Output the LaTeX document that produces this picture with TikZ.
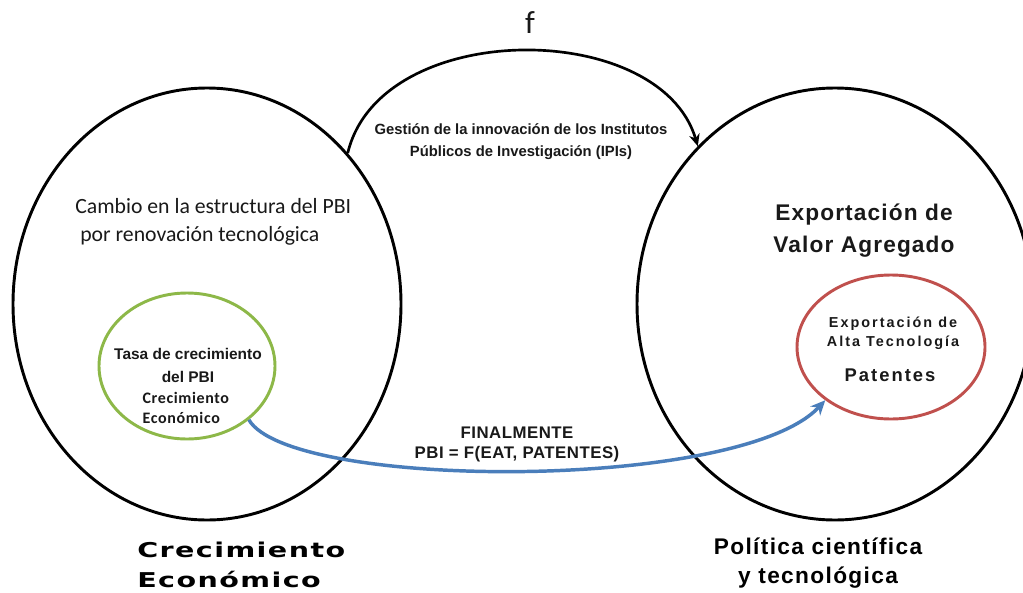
\documentclass[tikz,border=0pt]{standalone}
\usepackage{fontspec}
\usetikzlibrary{shapes.geometric,arrows.meta}
\setmainfont{Liberation Sans}
\newfontfamily\carl{Carlito}
\newfontfamily\widefont[FakeStretch=1.4]{DejaVu Sans}
\definecolor{ringgreen}{RGB}{141,184,72}
\definecolor{ringred}{RGB}{192,80,77}
\definecolor{flowblue}{RGB}{74,126,187}
\newcommand{\fsz}[2]{\fontsize{#1}{#2}\selectfont}
\tikzset{
  bigring/.style={ellipse, draw=black, line width=2.2pt, inner sep=0pt},
  greenring/.style={ellipse, draw=ringgreen, line width=2.2pt, inner sep=0pt},
  redring/.style={ellipse, draw=ringred, line width=2.2pt, inner sep=0pt},
  flow/.style={draw=flowblue, line width=2.6pt, -{Stealth[length=11pt,width=10pt]}},
  topflow/.style={draw=black, line width=2pt, -{Stealth[length=9pt,width=8pt]}},
  lbl/.style={inner sep=0pt, align=center, text=black!90},
}
\begin{document}
\begin{tikzpicture}[x=0.75pt,y=-0.75pt]
\clip (0,0) rectangle (1023,592);
\fill[white] (0,0) rectangle (1023,592);

% the two main ellipses
\node[bigring, minimum width=291pt, minimum height=324pt] (L) at (207,304) {};
\node[bigring, minimum width=297pt, minimum height=324pt] (R) at (835,304) {};

% inner ellipses
\node[greenring, minimum width=132pt, minimum height=109.5pt] (G) at (187,366) {};
\node[redring, minimum width=141pt, minimum height=108pt] (D) at (891,347) {};

% function arrow on top
\node[lbl, font=\carl\fsz{24pt}{28pt}] (f) at (530,23) {f};
\draw[topflow] (L.47) .. controls (380,18) and (660,18) .. (R.131);
\node[lbl, font=\bfseries\fsz{11.1pt}{16.5pt}] (gest) at (521,142)
  {Gestión de la innovación de los Institutos\\Públicos de Investigación (IPIs)};

% left texts
\node[lbl, anchor=west, align=left, font=\carl\fsz{16.3pt}{21pt}] (cambio) at (75,222)
  {Cambio en la estructura del PBI\\\hspace*{3.75pt}por renovación tecnológica};
\node[lbl, font=\bfseries\fsz{11.6pt}{17.25pt}] (tasa) at (188,365)
  {Tasa de crecimiento\\del PBI};
\node[lbl, anchor=west, align=left, fill=white, inner sep=1pt,
      font=\carl\bfseries\fsz{12pt}{15pt}\addfontfeatures{LetterSpace=4}] (crecin) at (141,408)
  {Crecimiento\\Económico};

% right texts
\node[lbl, font=\bfseries\fsz{17pt}{24pt}\addfontfeatures{LetterSpace=5}] (valor) at (864,231)
  {Exportación de\\Valor Agregado};
\node[lbl, font=\bfseries\fsz{10.8pt}{14.25pt}\addfontfeatures{LetterSpace=14}] (alta) at (893,333)
  {Exportación de\\Alta Tecnología};
\node[lbl, font=\bfseries\fsz{13.8pt}{16pt}\addfontfeatures{LetterSpace=11}] (pat) at (890,375)
  {Patentes};

% connection between the inner ellipses
\draw[flow] (G.-41) .. controls (290,490) and (740,492) .. (D.-141);
\node[lbl, font=\bfseries\fsz{12.6pt}{15pt}\addfontfeatures{LetterSpace=3}] (fin) at (517,444)
  {FINALMENTE\\PBI = F(EAT, PATENTES)};

% captions under the ellipses
\node[lbl, anchor=west, align=left, text=black,
      font=\widefont\bfseries\fsz{15.3pt}{22.5pt}\addfontfeatures{LetterSpace=7}] (capL) at (137,565)
  {Crecimiento\\Económico};
\node[lbl, text=black, font=\bfseries\fsz{17pt}{22pt}\addfontfeatures{LetterSpace=6}] (capR) at (818,563)
  {Política científica\\y tecnológica};
\end{tikzpicture}
\end{document}
